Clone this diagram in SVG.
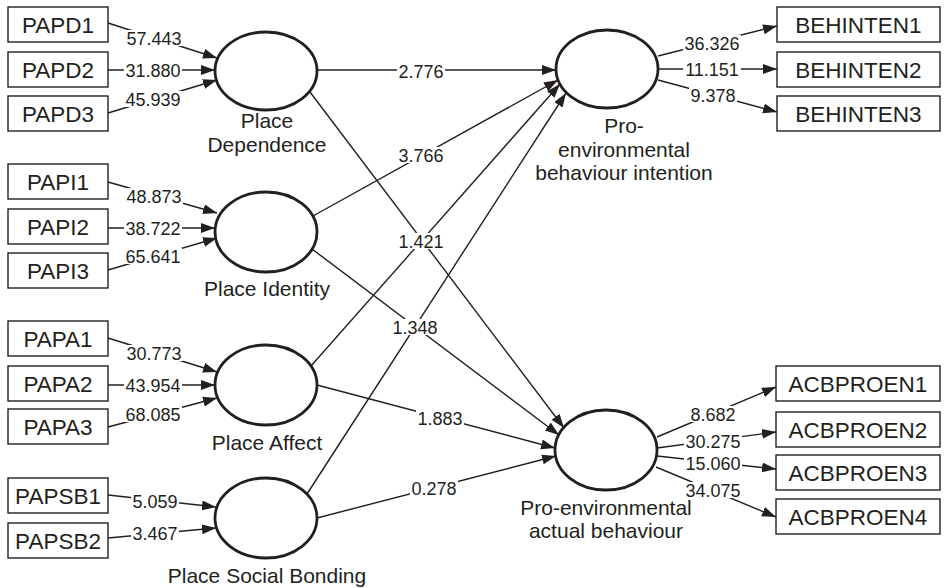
<svg xmlns="http://www.w3.org/2000/svg" width="948" height="588" viewBox="0 0 948 588">
<style>
  .box{fill:#fff;stroke:#231f20;stroke-width:1.4}
  .lat{fill:#fff;stroke:#231f20;stroke-width:2.8}
  .bt{font-family:"Liberation Sans",Arial,sans-serif;font-size:22.5px;fill:#231f20;text-anchor:middle}
  .lt{font-family:"Liberation Sans",Arial,sans-serif;font-size:21px;fill:#231f20;text-anchor:middle}
  .vt{font-family:"Liberation Sans",Arial,sans-serif;font-size:18px;fill:#231f20;text-anchor:middle}
  .ln{fill:none;stroke:#231f20;stroke-width:1.4;marker-end:url(#ah)}
  .bg{fill:#fff}
</style>
<defs>
  <marker id="ah" markerUnits="userSpaceOnUse" markerWidth="15" markerHeight="11" refX="14" refY="5" orient="auto">
    <path d="M0,0 L14,5 L0,10 z" fill="#231f20"/>
  </marker>
</defs>
<rect width="948" height="588" fill="#fff"/>

<g id="connectors">
  <!-- indicators left -->
  <line class="ln" x1="108" y1="23" x2="217" y2="58"/>
  <line class="ln" x1="108" y1="70" x2="215" y2="70"/>
  <line class="ln" x1="108" y1="113" x2="217" y2="80"/>
  <line class="ln" x1="108" y1="182" x2="217" y2="213"/>
  <line class="ln" x1="108" y1="228" x2="215" y2="228"/>
  <line class="ln" x1="108" y1="270" x2="217" y2="238"/>
  <line class="ln" x1="108" y1="338" x2="217" y2="372"/>
  <line class="ln" x1="108" y1="385" x2="215" y2="385"/>
  <line class="ln" x1="108" y1="427" x2="217" y2="398"/>
  <line class="ln" x1="108" y1="495" x2="216" y2="507"/>
  <line class="ln" x1="108" y1="538" x2="216" y2="528"/>
  <!-- structural -->
  <line class="ln" x1="317" y1="70" x2="556" y2="70"/>
  <line class="ln" x1="313" y1="216" x2="558" y2="80"/>
  <line class="ln" x1="311" y1="366" x2="560" y2="84"/>
  <line class="ln" x1="307" y1="494" x2="566" y2="93"/>
  <line class="ln" x1="310" y1="92" x2="564" y2="428"/>
  <line class="ln" x1="312" y1="249" x2="559" y2="435"/>
  <line class="ln" x1="317" y1="385" x2="555" y2="448"/>
  <line class="ln" x1="317" y1="518" x2="556" y2="456"/>
  <!-- indicators right -->
  <line class="ln" x1="658" y1="56" x2="777" y2="26"/>
  <line class="ln" x1="658" y1="69" x2="777" y2="69"/>
  <line class="ln" x1="658" y1="80" x2="777" y2="112"/>
  <line class="ln" x1="657" y1="437" x2="776" y2="387"/>
  <line class="ln" x1="657" y1="448" x2="776" y2="432"/>
  <line class="ln" x1="657" y1="456" x2="776" y2="469"/>
  <line class="ln" x1="656" y1="467" x2="776" y2="517"/>

  <!-- labels -->
  <g id="labels">
    <rect class="bg" x="125" y="30" width="58" height="16"/><text class="vt" x="154" y="44.5">57.443</text>
    <rect class="bg" x="124" y="62" width="58" height="16"/><text class="vt" x="153" y="76.5">31.880</text>
    <rect class="bg" x="124" y="91" width="58" height="16"/><text class="vt" x="153" y="105.5">45.939</text>
    <rect class="bg" x="125" y="188" width="58" height="16"/><text class="vt" x="154" y="202.5">48.873</text>
    <rect class="bg" x="124" y="220" width="58" height="16"/><text class="vt" x="153" y="234.5">38.722</text>
    <rect class="bg" x="124" y="248" width="58" height="16"/><text class="vt" x="153" y="262.5">65.641</text>
    <rect class="bg" x="125" y="345" width="58" height="16"/><text class="vt" x="154" y="359.5">30.773</text>
    <rect class="bg" x="124" y="377" width="58" height="16"/><text class="vt" x="153" y="391.5">43.954</text>
    <rect class="bg" x="124" y="406" width="58" height="16"/><text class="vt" x="153" y="420.5">68.085</text>
    <rect class="bg" x="131" y="493" width="48" height="16"/><text class="vt" x="155" y="507.5">5.059</text>
    <rect class="bg" x="131" y="525" width="48" height="16"/><text class="vt" x="155" y="539.5">3.467</text>

    <rect class="bg" x="397" y="63" width="48" height="16"/><text class="vt" x="421" y="77.5">2.776</text>
    <rect class="bg" x="397" y="147" width="48" height="16"/><text class="vt" x="421" y="161.5">3.766</text>
    <rect class="bg" x="397" y="233" width="48" height="16"/><text class="vt" x="421" y="247.5">1.421</text>
    <rect class="bg" x="391" y="319" width="48" height="16"/><text class="vt" x="415" y="333.5">1.348</text>
    <rect class="bg" x="416" y="410" width="48" height="16"/><text class="vt" x="440" y="424.5">1.883</text>
    <rect class="bg" x="410" y="480" width="48" height="16"/><text class="vt" x="434" y="494.5">0.278</text>

    <rect class="bg" x="683" y="35" width="58" height="16"/><text class="vt" x="712" y="49.5">36.326</text>
    <rect class="bg" x="683" y="61" width="58" height="16"/><text class="vt" x="712" y="75.5">11.151</text>
    <rect class="bg" x="689" y="87" width="48" height="16"/><text class="vt" x="713" y="101.5">9.378</text>
    <rect class="bg" x="689" y="406" width="48" height="16"/><text class="vt" x="713" y="420.5">8.682</text>
    <rect class="bg" x="684" y="433" width="58" height="16"/><text class="vt" x="713" y="447.5">30.275</text>
    <rect class="bg" x="684" y="455" width="58" height="16"/><text class="vt" x="713" y="469.5">15.060</text>
    <rect class="bg" x="684" y="482" width="58" height="16"/><text class="vt" x="713" y="496.5">34.075</text>
  </g>
</g>

<!-- indicator boxes left -->
<g id="PAPD1"><rect class="box" x="8" y="7" width="100" height="35"/><text class="bt" x="58" y="32.5">PAPD1</text></g>
<g id="PAPD2"><rect class="box" x="8" y="52" width="100" height="35"/><text class="bt" x="58" y="77.5">PAPD2</text></g>
<g id="PAPD3"><rect class="box" x="8" y="96" width="100" height="35"/><text class="bt" x="58" y="121.5">PAPD3</text></g>
<g id="PAPI1"><rect class="box" x="8" y="164" width="100" height="35"/><text class="bt" x="58" y="189.5">PAPI1</text></g>
<g id="PAPI2"><rect class="box" x="8" y="209" width="100" height="35"/><text class="bt" x="58" y="234.5">PAPI2</text></g>
<g id="PAPI3"><rect class="box" x="8" y="253" width="100" height="35"/><text class="bt" x="58" y="278.5">PAPI3</text></g>
<g id="PAPA1"><rect class="box" x="8" y="321" width="100" height="35"/><text class="bt" x="58" y="346.5">PAPA1</text></g>
<g id="PAPA2"><rect class="box" x="8" y="366" width="100" height="35"/><text class="bt" x="58" y="391.5">PAPA2</text></g>
<g id="PAPA3"><rect class="box" x="8" y="409" width="100" height="35"/><text class="bt" x="58" y="434.5">PAPA3</text></g>
<g id="PAPSB1"><rect class="box" x="8" y="478" width="100" height="35"/><text class="bt" x="58" y="503.5">PAPSB1</text></g>
<g id="PAPSB2"><rect class="box" x="8" y="523" width="100" height="35"/><text class="bt" x="58" y="548.5">PAPSB2</text></g>

<!-- latent variables -->
<g id="PlaceDependence"><ellipse class="lat" cx="266" cy="71" rx="51" ry="39"/><text class="lt" x="267" y="128">Place</text><text class="lt" x="267" y="152">Dependence</text></g>
<g id="PlaceIdentity"><ellipse class="lat" cx="266" cy="232" rx="51" ry="40"/><text class="lt" x="267" y="296">Place Identity</text></g>
<g id="PlaceAffect"><ellipse class="lat" cx="266" cy="385" rx="51" ry="40"/><text class="lt" x="267" y="450">Place Affect</text></g>
<g id="PlaceSocialBonding"><ellipse class="lat" cx="266" cy="518" rx="51" ry="40"/><text class="lt" x="267" y="583">Place Social Bonding</text></g>
<g id="ProEnvIntention"><ellipse class="lat" cx="607" cy="69" rx="51" ry="39"/><text class="lt" x="624" y="133">Pro-</text><text class="lt" x="624" y="157">environmental</text><text class="lt" x="624" y="180">behaviour intention</text></g>
<g id="ProEnvActual"><ellipse class="lat" cx="606" cy="450" rx="51" ry="40"/><text class="lt" x="606" y="515">Pro-environmental</text><text class="lt" x="606" y="538">actual behaviour</text></g>

<!-- indicator boxes right -->
<g id="BEHINTEN1"><rect class="box" x="777" y="7" width="163" height="35"/><text class="bt" x="858.5" y="32.5">BEHINTEN1</text></g>
<g id="BEHINTEN2"><rect class="box" x="777" y="52" width="163" height="35"/><text class="bt" x="858.5" y="77.5">BEHINTEN2</text></g>
<g id="BEHINTEN3"><rect class="box" x="777" y="96" width="163" height="35"/><text class="bt" x="858.5" y="121.5">BEHINTEN3</text></g>
<g id="ACBPROEN1"><rect class="box" x="776" y="366" width="164" height="35"/><text class="bt" x="858" y="391.5">ACBPROEN1</text></g>
<g id="ACBPROEN2"><rect class="box" x="776" y="412" width="164" height="35"/><text class="bt" x="858" y="437.5">ACBPROEN2</text></g>
<g id="ACBPROEN3"><rect class="box" x="776" y="455" width="164" height="35"/><text class="bt" x="858" y="480.5">ACBPROEN3</text></g>
<g id="ACBPROEN4"><rect class="box" x="776" y="499" width="164" height="35"/><text class="bt" x="858" y="524.5">ACBPROEN4</text></g>
</svg>
